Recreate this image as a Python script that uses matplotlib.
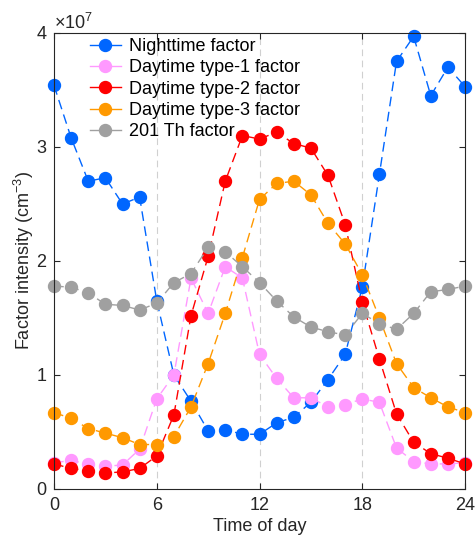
import matplotlib
matplotlib.use("Agg")
import matplotlib.pyplot as plt
from matplotlib.lines import Line2D
from matplotlib.ticker import ScalarFormatter
import numpy as np

plt.rcParams['font.family'] = ['Liberation Sans', 'DejaVu Sans']
plt.rcParams['mathtext.fontset'] = 'custom'
plt.rcParams['mathtext.rm'] = 'Liberation Sans'
plt.rcParams['mathtext.it'] = 'Liberation Sans'

hours = list(range(25))
scale = 1e7
night = [3.54, 3.08, 2.70, 2.73, 2.50, 2.56, 1.65, 1.00, 0.77, 0.51, 0.52, 0.48, 0.48,
         0.58, 0.63, 0.76, 0.96, 1.18, 1.77, 2.76, 3.75, 3.97, 3.45, 3.70, 3.53]
type1 = [0.23, 0.25, 0.22, 0.20, 0.21, 0.35, 0.79, 1.00, 1.85, 1.54, 1.95, 1.85, 1.18,
         0.97, 0.80, 0.80, 0.72, 0.74, 0.79, 0.76, 0.36, 0.24, 0.22, 0.22, 0.23]
type2 = [0.22, 0.18, 0.16, 0.14, 0.15, 0.18, 0.29, 0.65, 1.52, 2.04, 2.70, 3.10, 3.07,
         3.13, 3.03, 2.99, 2.75, 2.32, 1.64, 1.14, 0.66, 0.41, 0.31, 0.27, 0.22]
type3 = [0.67, 0.62, 0.53, 0.49, 0.45, 0.39, 0.39, 0.46, 0.72, 1.10, 1.54, 2.03, 2.54,
         2.68, 2.70, 2.58, 2.33, 2.15, 1.88, 1.50, 1.10, 0.89, 0.80, 0.72, 0.67]
th201 = [1.78, 1.77, 1.72, 1.62, 1.61, 1.57, 1.63, 1.81, 1.89, 2.12, 2.08, 1.95, 1.81,
         1.65, 1.51, 1.42, 1.38, 1.35, 1.54, 1.45, 1.40, 1.54, 1.73, 1.75, 1.78]

labels = ["Nighttime factor", "Daytime type-1 factor", "Daytime type-2 factor",
          "Daytime type-3 factor", "201 Th factor"]
colors = ["#0066FF", "#FF99FF", "#FF0000", "#FF9900", "#A0A0A0"]
series = [night, type1, type2, type3, th201]
xticks = [0, 6, 12, 18, 24]
yticks = [0, 1e7, 2e7, 3e7, 4e7]
vlines = [6, 12, 18]

fig = plt.figure(figsize=(4.75, 5.39), dpi=100)
ax = fig.add_axes([0.1137, 0.0928, 0.8653, 0.846])

for v in vlines:
    ax.axvline(v, color="#D0D0D0", lw=0.8, dashes=(6, 4), zorder=0)

for vals, c in zip(series, colors):
    ax.plot(hours, np.array(vals) * scale, color=c, lw=1.0, dashes=(7, 4),
            marker='o', markersize=8.6, markeredgecolor=c, markerfacecolor=c,
            clip_on=False, zorder=3)

ax.set_xlim(0, 24)
ax.set_ylim(0, 4e7)
ax.set_xticks(xticks)
ax.set_yticks(yticks)
fmt = ScalarFormatter(useMathText=True)
fmt.set_powerlimits((0, 0))
ax.yaxis.set_major_formatter(fmt)
ax.yaxis.get_offset_text().set_fontsize(13)
ax.yaxis.get_offset_text().set_color("#262626")

ax.tick_params(direction='in', top=True, right=True, length=4, width=0.8,
               labelsize=13, colors="#262626")
ax.tick_params(axis='x', pad=6)
ax.tick_params(axis='y', pad=5)
for s in ax.spines.values():
    s.set_color("#262626")
    s.set_linewidth(0.8)
    s.set_zorder(4)

ax.set_xlabel("Time of day", fontsize=13, color="#262626", labelpad=3)
ax.set_ylabel("Factor intensity (cm$^{-3}$)", fontsize=13, color="#262626", labelpad=0)

handles = [Line2D([0], [0], color=c, lw=1.0, marker='o', markersize=8.6) for c in colors]
leg = ax.legend(handles, labels, loc='upper left', frameon=False, fontsize=13,
                handlelength=1.75, labelspacing=0.24, handletextpad=0.45,
                bbox_to_anchor=(0.06, 1.013), borderaxespad=0.2)
leg.set_zorder(5)

fig.savefig("out.png", dpi=100)
